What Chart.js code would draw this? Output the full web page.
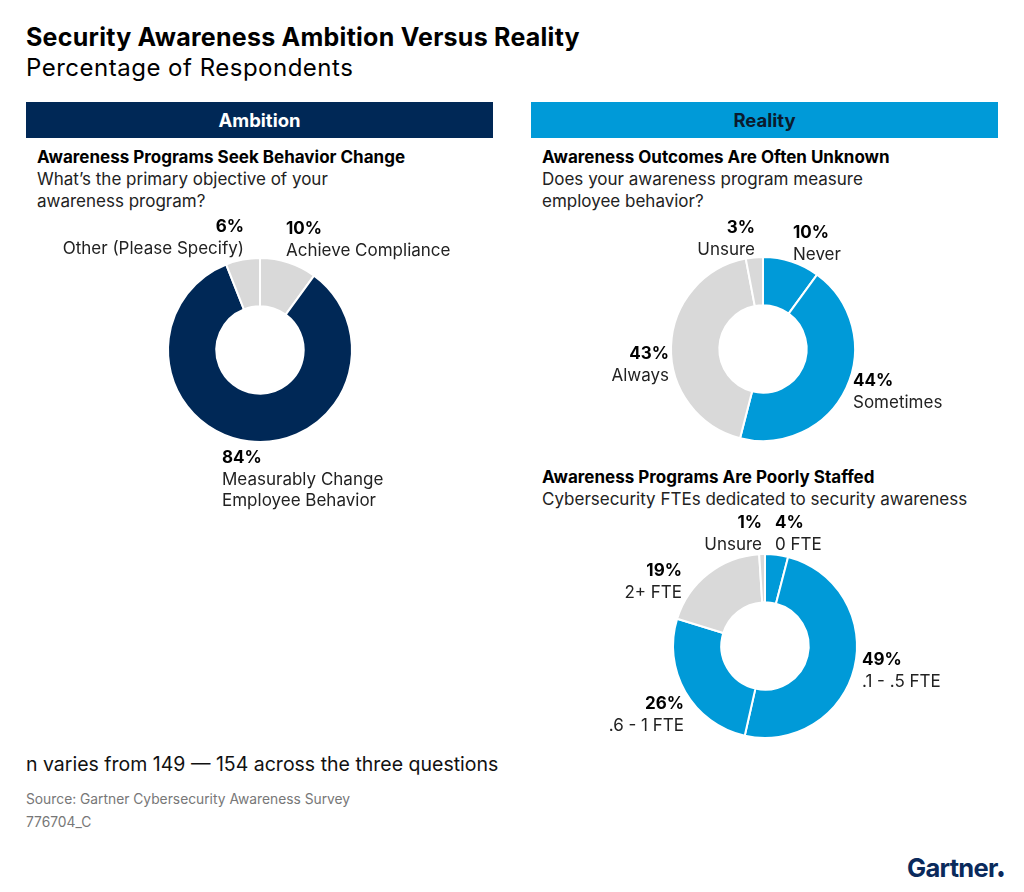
<!DOCTYPE html>
<html>
<head>
<meta charset="utf-8">
<script src="https://cdn.jsdelivr.net/npm/chart.js@4.4.1/dist/chart.umd.min.js"></script>
<style>
  html, body { margin: 0; padding: 0; background: #fff; }
  body { width: 1024px; height: 892px; position: relative; overflow: hidden; font-family: Inter, "Noto Sans", sans-serif; color: #000; }
  .abs { position: absolute; white-space: nowrap; }
  .title { left: 26px; top: 22px; font-size: 25px; font-weight: 700; line-height: 30px; letter-spacing: 0.25px; }
  .subtitle { left: 26px; top: 53px; font-size: 24px; font-weight: 400; line-height: 30px; letter-spacing: 0.5px; }
  .band { position: absolute; top: 102px; height: 36px; width: 467px; font-size: 18.5px; font-weight: 700; line-height: 37px; text-align: center; }
  .h { font-size: 17px; font-weight: 700; line-height: 22px; }
  .q { font-size: 17px; font-weight: 400; line-height: 22px; color: #222; }
  .pct { font-size: 17px; font-weight: 700; line-height: 21.5px; }
  .lab { font-size: 17px; font-weight: 400; line-height: 21.5px; color: #222; }
  .chartbox { position: absolute; width: 200px; height: 200px; }
  .note { left: 26px; top: 752px; font-size: 19.5px; line-height: 24px; color: #111; }
  .src { left: 26px; font-size: 13.8px; line-height: 18px; color: #777; }
  .logo { left: 907px; top: 853px; font-size: 25.5px; font-weight: 700; color: #0a2a5c; line-height: 30px; letter-spacing: -0.7px; }
  .logo span { font-size: 7px; vertical-align: baseline; letter-spacing: 0; }
</style>
</head>
<body>
<div class="abs title">Security Awareness Ambition Versus Reality</div>
<div class="abs subtitle">Percentage of Respondents</div>

<div class="band" style="left:26px;background:#002856;color:#fff;">Ambition</div>
<div class="band" style="left:531px;background:#009ad8;color:#0b1b2e;">Reality</div>

<div class="abs h" style="left:37px;top:146px;">Awareness Programs Seek Behavior Change</div>
<div class="abs q" style="left:37px;top:168px;">What’s the primary objective of your<br>awareness program?</div>

<div class="abs h" style="left:542px;top:146px;">Awareness Outcomes Are Often Unknown</div>
<div class="abs q" style="left:542px;top:168px;">Does your awareness program measure<br>employee behavior?</div>

<div class="abs h" style="left:542px;top:466px;">Awareness Programs Are Poorly Staffed</div>
<div class="abs q" style="left:542px;top:488px;">Cybersecurity FTEs dedicated to security awareness</div>

<div class="chartbox" style="left:160px;top:250px;"><canvas id="c1"></canvas></div>
<div class="chartbox" style="left:663px;top:249px;"><canvas id="c2"></canvas></div>
<div class="chartbox" style="left:665px;top:546px;"><canvas id="c3"></canvas></div>

<div id="labels"></div>

<div class="abs note">n varies from 149 — 154 across the three questions</div>
<div class="abs src" style="top:790px;">Source: Gartner Cybersecurity Awareness Survey</div>
<div class="abs src" style="top:813px;">776704_C</div>
<div class="abs logo">Gartner<span>●</span></div>

<script>
// ---- Data ----
const objectiveLabels = ["Achieve Compliance", "Measurably Change Employee Behavior", "Other (Please Specify)"];
const objectiveValues = [10, 84, 6];

const measureLabels = ["Never", "Sometimes", "Always", "Unsure"];
const measureValues = [10, 44, 43, 3];

const staffLabels = ["0 FTE", ".1 - .5 FTE", ".6 - 1 FTE", "2+ FTE", "Unsure"];
const staffValues = [4, 49, 26, 19, 1];

const NAVY = "#002856", BLUE = "#009ad8", GRAY = "#d9d9d9";
const objectiveColors = [GRAY, NAVY, GRAY];
const measureColors = [BLUE, BLUE, GRAY, GRAY];
const staffColors = [BLUE, BLUE, BLUE, GRAY, GRAY];

function donut(id, labels, values, colors) {
  return new Chart(document.getElementById(id), {
    type: "doughnut",
    data: { labels, datasets: [{ data: values, backgroundColor: colors, borderColor: "#fff", borderWidth: 2, hoverOffset: 0 }] },
    options: {
      responsive: true, maintainAspectRatio: false, animation: false,
      radius: 92, cutout: 47,
      events: [],
      layout: { padding: 0 },
      plugins: { legend: { display: false }, tooltip: { enabled: false } }
    }
  });
}
donut("c1", objectiveLabels, objectiveValues, objectiveColors);
donut("c2", measureLabels, measureValues, measureColors);
donut("c3", staffLabels, staffValues, staffColors);

// ---- Text labels (value + category), placed around each donut ----
const labelSpecs = [
  // [values array, index, category lines, x, y, align]
  [objectiveValues, 2, ["Other (Please Specify)"], 244, 216, "r"],
  [objectiveValues, 0, ["Achieve Compliance"], 286, 218, "l"],
  [objectiveValues, 1, ["Measurably Change", "Employee Behavior"], 222, 447, "l"],
  [measureValues, 3, ["Unsure"], 755, 217, "r"],
  [measureValues, 0, ["Never"], 793, 222, "l"],
  [measureValues, 2, ["Always"], 669, 343, "r"],
  [measureValues, 1, ["Sometimes"], 853, 370, "l"],
  [staffValues, 4, ["Unsure"], 762, 512, "r"],
  [staffValues, 0, ["0 FTE"], 775, 512, "l"],
  [staffValues, 3, ["2+ FTE"], 682, 560, "r"],
  [staffValues, 1, [".1 - .5 FTE"], 862, 649, "l"],
  [staffValues, 2, [".6 - 1 FTE"], 684, 693, "r"]
];
const host = document.getElementById("labels");
labelSpecs.forEach(([vals, i, lines, x, y, al]) => {
  const d = document.createElement("div");
  d.className = "abs";
  d.style.top = y + "px";
  if (al === "r") { d.style.right = (1024 - x) + "px"; d.style.textAlign = "right"; }
  else { d.style.left = x + "px"; }
  d.innerHTML = '<div class="pct">' + vals[i] + '%</div>' +
    lines.map(t => '<div class="lab">' + t + '</div>').join("");
  host.appendChild(d);
});
</script>
</body>
</html>
